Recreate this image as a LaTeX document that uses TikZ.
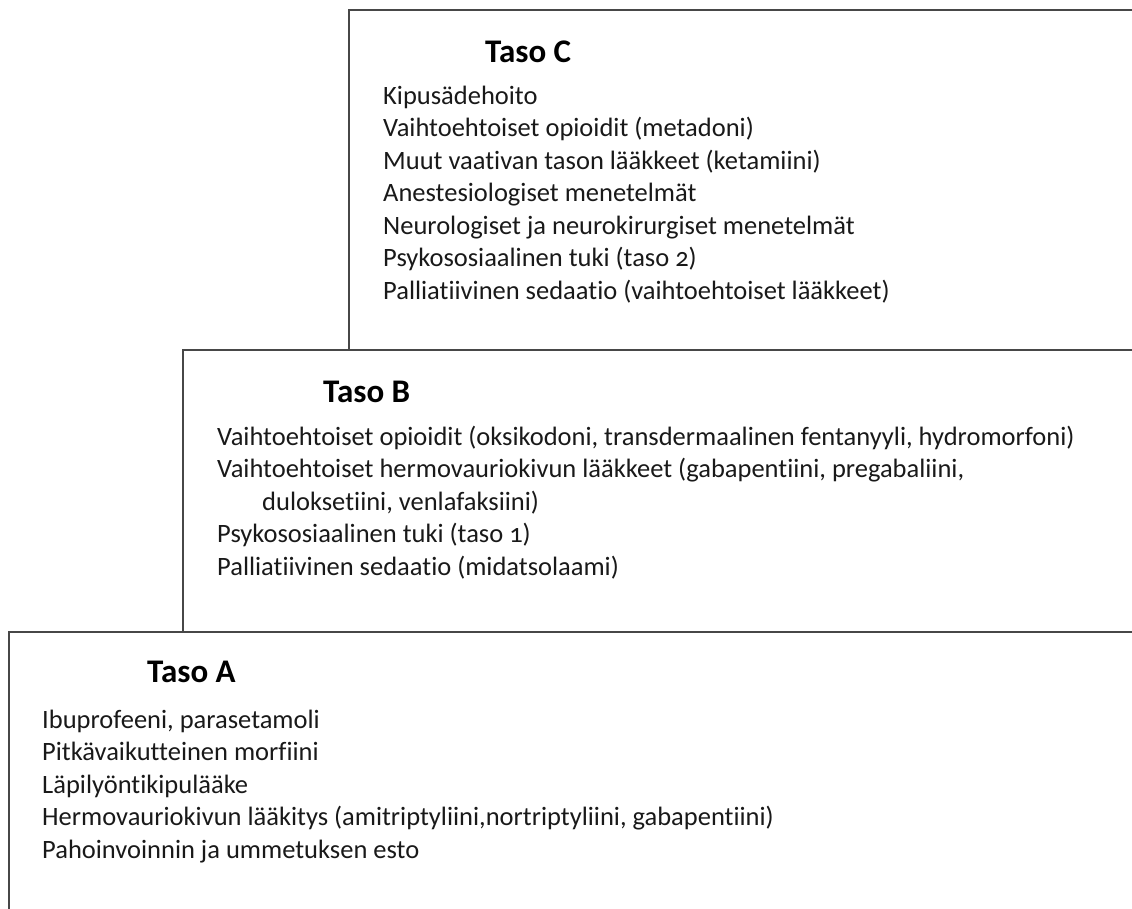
\documentclass[tikz,border=0pt]{standalone}
\usepackage{fontspec}
\setmainfont[Numbers=OldStyle,Ligatures=NoCommon]{Carlito}
\tikzset{
  frame/.style={draw=black!72, line width=1.8pt},
  title/.style={anchor=base west, inner sep=0pt, font=\bfseries\fontsize{33}{40}\selectfont},
  item/.style={anchor=base west, inner sep=0pt, text=black!90, font=\fontsize{26.5}{32.5}\selectfont},
}
\begin{document}
\begin{tikzpicture}[x=1pt,y=-1pt]
\useasboundingbox (0,0) rectangle (1132,908);
% frames
\draw[frame] (1145,10) -- (349,10) -- (349,350);
\draw[frame] (1145,350) -- (183,350) -- (183,632);
\draw[frame] (1145,632) -- (9,632) -- (9,920);
% Taso C
\node[title] (tc) at (485,62) {Taso C};
\node[item] (c1) at (383,104) {Kipusädehoito};
\node[item] (c2) at (383,136.5) {Vaihtoehtoiset opioidit (metadoni)};
\node[item] (c3) at (383,169) {Muut vaativan tason lääkkeet (ketamiini)};
\node[item] (c4) at (383,201.5) {Anestesiologiset menetelmät};
\node[item] (c5) at (383,234) {Neurologiset ja neurokirurgiset menetelmät};
\node[item] (c6) at (383,266.5) {Psykososiaalinen tuki (taso 2)};
\node[item] (c7) at (383,299) {Palliatiivinen sedaatio (vaihtoehtoiset lääkkeet)};
% Taso B
\node[title] (tb) at (323,402) {Taso B};
\node[item] (b1) at (217,445) {Vaihtoehtoiset opioidit (oksikodoni, transdermaalinen fentanyyli, hydromorfoni)};
\node[item] (b2) at (217,477.5) {Vaihtoehtoiset hermovauriokivun lääkkeet (gabapentiini, pregabaliini,};
\node[item] (b3) at (262,510) {duloksetiini, venlafaksiini)};
\node[item] (b4) at (217,542.5) {Psykososiaalinen tuki (taso 1)};
\node[item] (b5) at (217,575) {Palliatiivinen sedaatio (midatsolaami)};
% Taso A
\node[title] (ta) at (147,682) {Taso A};
\node[item] (a1) at (42,728) {Ibuprofeeni, parasetamoli};
\node[item] (a2) at (42,760.5) {Pitkävaikutteinen morfiini};
\node[item] (a3) at (42,793) {Läpilyöntikipulääke};
\node[item] (a4) at (42,825.5) {Hermovauriokivun lääkitys (amitriptyliini,nortriptyliini, gabapentiini)};
\node[item] (a5) at (42,858) {Pahoinvoinnin ja ummetuksen esto};
\end{tikzpicture}
\end{document}
